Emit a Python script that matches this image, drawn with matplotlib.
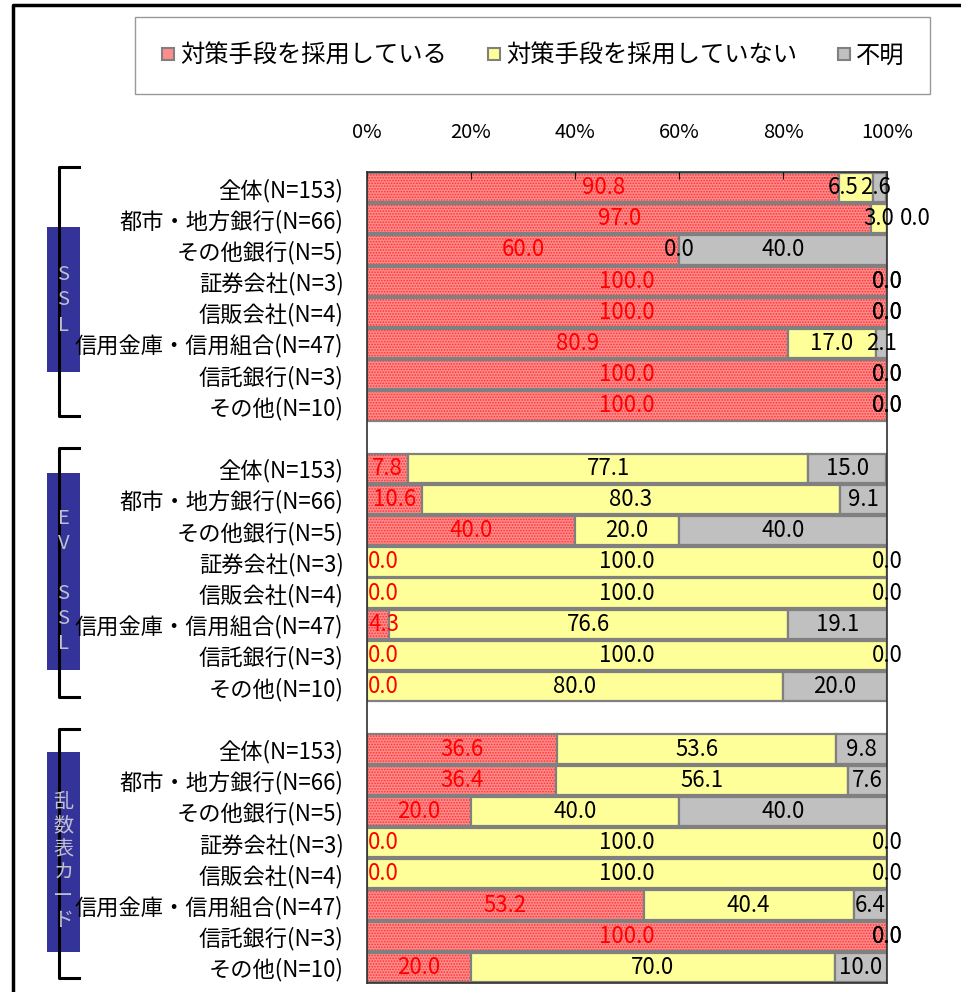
import numpy as np
import matplotlib
matplotlib.use("Agg")
import matplotlib.pyplot as plt
from matplotlib.lines import Line2D
from matplotlib.patches import Rectangle
from matplotlib.transforms import blended_transform_factory

plt.rcParams["font.family"] = ["Noto Sans CJK JP", "DejaVu Sans"]
plt.rcParams["hatch.linewidth"] = 0.8

# 回答者区分（各グループ共通）
categories = [
    "全体(N=153)", "都市・地方銀行(N=66)", "その他銀行(N=5)", "証券会社(N=3)",
    "信販会社(N=4)", "信用金庫・信用組合(N=47)", "信託銀行(N=3)", "その他(N=10)",
]
group_names = ["SSL", "EV SSL", "乱数表カード"]
series_names = ["対策手段を採用している", "対策手段を採用していない", "不明"]
tick_labels = ["0%", "20%", "40%", "60%", "80%", "100%"]

# SSL
ssl_adopt = [90.8, 97.0, 60.0, 100.0, 100.0, 80.9, 100.0, 100.0]
ssl_not = [6.5, 3.0, 0.0, 0.0, 0.0, 17.0, 0.0, 0.0]
ssl_unknown = [2.6, 0.0, 40.0, 0.0, 0.0, 2.1, 0.0, 0.0]

# EV SSL
ev_adopt = [7.8, 10.6, 40.0, 0.0, 0.0, 4.3, 0.0, 0.0]
ev_not = [77.1, 80.3, 20.0, 100.0, 100.0, 76.6, 100.0, 80.0]
ev_unknown = [15.0, 9.1, 40.0, 0.0, 0.0, 19.1, 0.0, 20.0]

# 乱数表カード
rand_adopt = [36.6, 36.4, 20.0, 0.0, 0.0, 53.2, 100.0, 20.0]
rand_not = [53.6, 56.1, 40.0, 100.0, 100.0, 40.4, 0.0, 70.0]
rand_unknown = [9.8, 7.6, 40.0, 0.0, 0.0, 6.4, 0.0, 10.0]

groups = [
    (ssl_adopt, ssl_not, ssl_unknown),
    (ev_adopt, ev_not, ev_unknown),
    (rand_adopt, rand_not, rand_unknown),
]

face_colors = ["#ff8c8c", "#ffff99", "#c0c0c0"]
label_colors = ["#ff0000", "black", "black"]
edge_gray = "#808080"

# ラベルの重なり回避用の横ずらし（%単位）
label_nudge = {(0, 0, 1): -2.5, (0, 0, 2): -0.8, (0, 1, 2): 5.4}

n_cat = len(categories)
slot = n_cat + 1  # グループ間に空行を1つ入れる

fig = plt.figure(figsize=(9.62, 9.92), dpi=100)
W, H = 962, 992
ax = fig.add_axes([367 / W, 1 - 983 / H, 520 / W, 811 / H])

ytick_pos, ytick_lab = [], []
for g, series in enumerate(groups):
    ypos = np.arange(n_cat) + g * slot
    left = np.zeros(n_cat)
    for s, vals in enumerate(series):
        vals = np.array(vals)
        if s == 0:
            ax.barh(ypos, vals, left=left, height=0.94, color=face_colors[s],
                    edgecolor="#ff3030", hatch="......", linewidth=0)
            ax.barh(ypos, vals, left=left, height=0.94, fill=False,
                    edgecolor=edge_gray, linewidth=1.6)
        else:
            ax.barh(ypos, vals, left=left, height=0.94, color=face_colors[s],
                    edgecolor=edge_gray, linewidth=1.6)
        for i, v in enumerate(vals):
            xc = left[i] + v / 2
            xc = max(xc, 3.2)
            xc += label_nudge.get((g, i, s), 0)
            ax.text(xc, ypos[i], f"{v:.1f}", ha="center", va="center",
                    fontsize=16, color=label_colors[s], clip_on=False)
        left = left + vals
    ytick_pos.extend(ypos)
    ytick_lab.extend(categories)

ax.set_xlim(0, 100)
ax.set_ylim(3 * slot - 1 - 0.5, -0.5)
ax.set_yticks(ytick_pos)
ax.set_yticklabels(ytick_lab, fontsize=16)
ax.tick_params(axis="y", length=0, pad=17)
ax.set_xticks(np.arange(0, 101, 20))
ax.set_xticklabels(tick_labels, fontsize=14.5)
ax.tick_params(axis="x", top=True, bottom=False, labeltop=True, labelbottom=False,
               direction="in", length=5, pad=21)
for sp in ax.spines.values():
    sp.set_color("#303030")
    sp.set_linewidth(1.2)

# 左側のグループ見出し（括弧と縦書きラベル）
tr = blended_transform_factory(fig.transFigure, ax.transData)
box_heights = [4.65, 6.3, 6.4]
box_offsets = [0.09, -0.2, -0.2]
char_pitch = [0.82, 0.8, 0.76]
bx0, bx1, bxm = 59 / W, 79 / W, 63.5 / W
for g, name in enumerate(group_names):
    top = g * slot - 0.65
    bot = g * slot + n_cat - 1 + 0.33
    ax.add_line(Line2D([bx1, bx0, bx0, bx1], [top, top, bot, bot], transform=tr,
                       color="black", linewidth=2.2, clip_on=False))
    mid = g * slot + (n_cat - 1) / 2 + box_offsets[g]
    bh = box_heights[g]
    ax.add_patch(Rectangle((47 / W, mid - bh / 2), 33 / W, bh, transform=tr,
                           facecolor="#333399", edgecolor="none", clip_on=False))
    chars = list(name)
    tmid = g * slot + (n_cat - 1) / 2 + 0.1
    for k, ch in enumerate(chars):
        yk = tmid + (k - (len(chars) - 1) / 2) * char_pitch[g]
        ax.text(bxm, yk, ch, transform=tr, ha="center", va="center",
                fontsize=14.5, color="#c0c0d0", clip_on=False)

# 凡例
handles = [Line2D([], [], linestyle="none", marker="s", markersize=9,
                  markerfacecolor=c, markeredgecolor=edge_gray, markeredgewidth=1.5)
           for c in face_colors]
leg = fig.legend(handles, series_names, ncol=3, mode="expand", loc="center",
                 bbox_to_anchor=(135 / W, 1 - 93 / H, 795 / W, 75 / H),
                 fontsize=17.5, frameon=True, fancybox=False, handlelength=0.6,
                 handletextpad=0.2, borderpad=1.05, borderaxespad=0)
leg.get_frame().set_edgecolor("#808080")
leg.get_frame().set_linewidth(1.0)

# 外枠（左と上）
fig.add_artist(Line2D([13 / W, 13 / W, 1.0], [0.0, 1 - 5 / H, 1 - 5 / H],
                      transform=fig.transFigure, color="black", linewidth=2.5))

fig.savefig("out.png", dpi=100)
